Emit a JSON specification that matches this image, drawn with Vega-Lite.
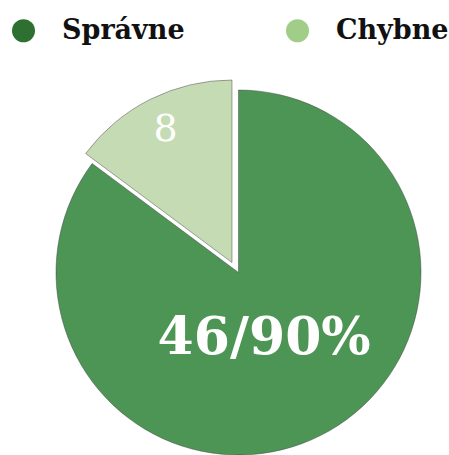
{
  "$schema": "https://vega.github.io/schema/vega-lite/v6.json",
  "width": 365,
  "height": 365,
  "autosize": {"type": "none"},
  "padding": {"left": 56, "top": 90, "right": 28, "bottom": 0},
  "background": "white",
  "data": {
    "values": [
      {"result": "Správne", "count": 46, "label": "46/90%"},
      {"result": "Chybne", "count": 8, "label": "8"}
    ]
  },
  "encoding": {
    "theta": {"field": "count", "type": "quantitative", "stack": true},
    "order": {"field": "result", "sort": "descending"}
  },
  "layer": [
    {
      "mark": {"type": "arc", "radius": 0.1},
      "encoding": {
        "color": {
          "field": "result",
          "type": "nominal",
          "scale": {"domain": ["Správne", "Chybne"], "range": ["#2e7031", "#a0cd87"]},
          "legend": {
            "title": null,
            "orient": "none",
            "direction": "horizontal",
            "legendX": -46,
            "legendY": -73,
            "padding": 0,
            "symbolType": "circle",
            "symbolSize": 530,
            "symbolStrokeWidth": 0,
            "symbolOpacity": 1,
            "labelOffset": 25,
            "columnPadding": 99,
            "labelFont": "DejaVu Serif",
            "labelFontWeight": "bold",
            "labelFontSize": 27,
            "labelColor": "#111111",
            "labelLimit": 300
          }
        }
      }
    },
    {
      "mark": {"type": "arc", "stroke": "#3a3a3a", "strokeWidth": 0.8, "strokeOpacity": 0.55},
      "encoding": {
        "fill": {
          "field": "result",
          "type": "nominal",
          "scale": {"domain": ["Správne", "Chybne"], "range": ["#4d9555", "#c5dbb3"]},
          "legend": null
        },
        "opacity": {"condition": {"test": "datum.result === 'Chybne'", "value": 0}, "value": 1}
      }
    },
    {
      "mark": {"type": "arc", "xOffset": -6.5, "yOffset": -10, "stroke": "#3a3a3a", "strokeWidth": 0.8, "strokeOpacity": 0.55},
      "encoding": {
        "fill": {"field": "result", "type": "nominal", "legend": null},
        "opacity": {"condition": {"test": "datum.result === 'Správne'", "value": 0}, "value": 1}
      }
    },
    {
      "mark": {"type": "text", "radius": 70, "thetaOffset": 0.09, "font": "DejaVu Serif", "fontWeight": "bold", "fontSize": 52, "fill": "white", "align": "center", "baseline": "middle"},
      "encoding": {
        "detail": {"field": "result"},
        "text": {"condition": {"test": "datum.result === 'Správne'", "field": "label"}, "value": ""}
      }
    },
    {
      "mark": {"type": "text", "radius": 148, "xOffset": -6.5, "yOffset": -10, "font": "DejaVu Serif", "fontWeight": "normal", "fontSize": 38, "fill": "white", "align": "center", "baseline": "middle"},
      "encoding": {
        "detail": {"field": "result"},
        "text": {"condition": {"test": "datum.result === 'Chybne'", "field": "label"}, "value": ""}
      }
    }
  ]
}
